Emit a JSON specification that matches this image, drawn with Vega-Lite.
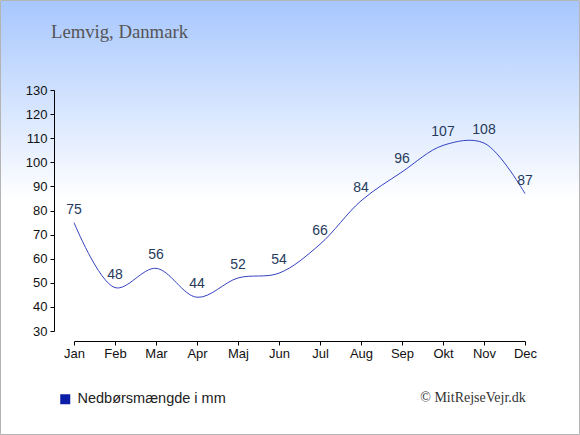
{
  "$schema": "https://vega.github.io/schema/vega-lite/v6.json",
  "autosize": "none",
  "width": 451,
  "height": 241,
  "padding": {"left": 74, "top": 90, "right": 55, "bottom": 104},
  "background": "white",
  "data": {
    "values": [
      {"m": 1, "mm": 75},
      {"m": 2, "mm": 48},
      {"m": 3, "mm": 56},
      {"m": 4, "mm": 44},
      {"m": 5, "mm": 52},
      {"m": 6, "mm": 54},
      {"m": 7, "mm": 66},
      {"m": 8, "mm": 84},
      {"m": 9, "mm": 96},
      {"m": 10, "mm": 107},
      {"m": 11, "mm": 108},
      {"m": 12, "mm": 87}
    ]
  },
  "layer": [
    {
      "data": {"values": [{}]},
      "mark": {
        "type": "rect",
        "fill": {
          "gradient": "linear",
          "x1": 0, "y1": 0, "x2": 0, "y2": 1,
          "stops": [
            {"offset": 0, "color": "#a7c7fe"},
            {"offset": 0.46, "color": "#ffffff"},
            {"offset": 1, "color": "#ffffff"}
          ]
        },
        "stroke": "#b4b4b4",
        "strokeWidth": 1
      },
      "encoding": {
        "x": {"datum": -0.793, "type": "quantitative", "scale": {"domain": [1, 12], "nice": false, "zero": false}},
        "x2": {"datum": 13.329},
        "y": {"datum": 167.14, "type": "quantitative", "scale": {"domain": [30, 130], "nice": false, "zero": false}},
        "y2": {"datum": -12.95}
      }
    },
    {
      "mark": {"type": "line", "interpolate": "catmull-rom", "strokeWidth": 1, "color": "#3442c2"},
      "encoding": {
        "x": {
          "field": "m",
          "type": "quantitative",
          "scale": {"domain": [1, 12], "nice": false, "zero": false},
          "axis": {
            "title": null,
            "zindex": 1,
            "values": [1, 2, 3, 4, 5, 6, 7, 8, 9, 10, 11, 12],
            "tickCount": 12,
            "labelExpr": "['Jan','Feb','Mar','Apr','Maj','Jun','Jul','Aug','Sep','Okt','Nov','Dec'][datum.value - 1]"
          }
        },
        "y": {
          "field": "mm",
          "type": "quantitative",
          "scale": {"domain": [30, 130], "nice": false, "zero": false},
          "axis": {
            "title": null,
            "zindex": 1,
            "values": [30, 40, 50, 60, 70, 80, 90, 100, 110, 120, 130],
            "tickCount": 11
          }
        },
        "color": {
          "datum": "Nedbørsmængde i mm",
          "scale": {"range": ["#3442c2"]},
          "legend": {
            "title": null,
            "orient": "none",
            "legendX": -16,
            "legendY": 302,
            "padding": 0,
            "symbolType": "square",
            "symbolSize": 100,
            "labelFont": "Liberation Sans",
            "labelFontSize": 14.5,
            "labelColor": "#222222",
            "labelOffset": 5,
            "encode": {
              "symbols": {
                "update": {
                  "fill": {"value": "#0b1ea8"},
                  "stroke": {"value": "#0b1ea8"},
                  "strokeWidth": {"value": 0},
                  "shape": {"value": "square"}
                }
              }
            }
          }
        }
      }
    },
    {
      "mark": {"type": "text", "dy": -13, "baseline": "middle", "font": "Liberation Sans", "fontSize": 14, "color": "#263a5c"},
      "encoding": {
        "x": {"field": "m", "type": "quantitative", "scale": {"domain": [1, 12], "nice": false, "zero": false}},
        "y": {"field": "mm", "type": "quantitative", "scale": {"domain": [30, 130], "nice": false, "zero": false}},
        "text": {"field": "mm", "type": "quantitative"}
      }
    },
    {
      "data": {"values": [{"t": "Lemvig, Danmark"}]},
      "mark": {"type": "text", "align": "left", "baseline": "alphabetic", "font": "Liberation Serif", "fontSize": 18.7, "color": "#555555"},
      "encoding": {
        "x": {"datum": 0.439, "type": "quantitative", "scale": {"domain": [1, 12], "nice": false, "zero": false}},
        "y": {"datum": 151.45, "type": "quantitative", "scale": {"domain": [30, 130], "nice": false, "zero": false}},
        "text": {"field": "t"}
      }
    },
    {
      "data": {"values": [{"t": "© MitRejseVejr.dk"}]},
      "mark": {"type": "text", "align": "right", "baseline": "middle", "font": "Liberation Serif", "fontSize": 14, "color": "#333333"},
      "encoding": {
        "x": {"datum": 12.02, "type": "quantitative", "scale": {"domain": [1, 12], "nice": false, "zero": false}},
        "y": {"datum": 2.2, "type": "quantitative", "scale": {"domain": [30, 130], "nice": false, "zero": false}},
        "text": {"field": "t"}
      }
    }
  ],
  "config": {
    "view": {"stroke": null},
    "axis": {
      "grid": false,
      "tickSize": 4,
      "labelFlush": false,
      "labelOverlap": false,
      "labelFont": "Liberation Sans",
      "labelFontSize": 13,
      "labelColor": "#111111",
      "domainColor": "#000000",
      "tickColor": "#000000"
    },
    "axisX": {"offset": 10, "labelPadding": 2},
    "axisY": {"offset": 20, "labelPadding": 3}
  }
}
